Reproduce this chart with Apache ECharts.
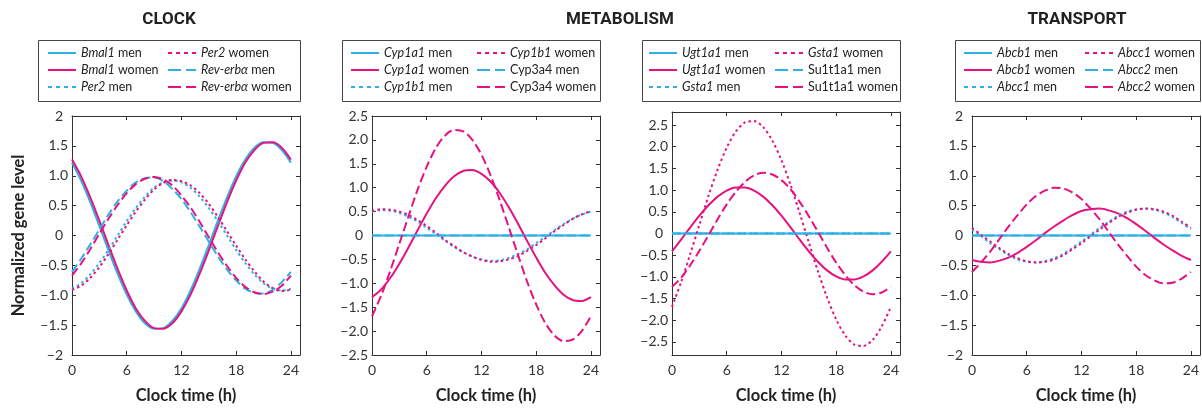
<!DOCTYPE html>
<html>
<head>
<meta charset="utf-8">
<script src="https://cdn.jsdelivr.net/npm/echarts@6/dist/echarts.min.js"></script>
<style>
  html, body { margin: 0; padding: 0; background: #fff; }
  #main { width: 1202px; height: 409px; }
</style>
</head>
<body>
<div id="main"></div>
<script>
  // clock time (h)
  const hours = [0, 1, 2, 3, 4, 5, 6, 7, 8, 9, 10, 11, 12, 13, 14, 15, 16, 17, 18, 19, 20, 21, 22, 23, 24]

  // CLOCK
  const bmal1Men = [1.22, 0.92, 0.56, 0.16, -0.25, -0.64, -0.99, -1.27, -1.47, -1.56, -1.55, -1.43, -1.22, -0.92, -0.56, -0.16, 0.25, 0.64, 0.99, 1.27, 1.47, 1.56, 1.55, 1.43, 1.22]
  const bmal1Women = [1.27, 0.99, 0.64, 0.25, -0.16, -0.56, -0.92, -1.22, -1.43, -1.55, -1.56, -1.47, -1.27, -0.99, -0.64, -0.25, 0.16, 0.56, 0.92, 1.22, 1.43, 1.55, 1.56, 1.47, 1.27]
  const per2Men = [-0.89, -0.80, -0.65, -0.46, -0.24, 0, 0.24, 0.46, 0.65, 0.80, 0.89, 0.92, 0.89, 0.80, 0.65, 0.46, 0.24, 0, -0.24, -0.46, -0.65, -0.80, -0.89, -0.92, -0.89]
  const per2Women = [-0.91, -0.84, -0.71, -0.53, -0.31, -0.07, 0.17, 0.40, 0.60, 0.77, 0.88, 0.93, 0.91, 0.84, 0.71, 0.53, 0.31, 0.07, -0.17, -0.40, -0.60, -0.77, -0.88, -0.93, -0.91]
  const reverbMen = [-0.61, -0.39, -0.15, 0.10, 0.35, 0.57, 0.75, 0.89, 0.96, 0.97, 0.91, 0.78, 0.61, 0.39, 0.15, -0.10, -0.35, -0.57, -0.75, -0.89, -0.96, -0.97, -0.91, -0.78, -0.61]
  const reverbWomen = [-0.67, -0.47, -0.23, 0.03, 0.28, 0.51, 0.71, 0.86, 0.95, 0.98, 0.94, 0.84, 0.67, 0.47, 0.23, -0.03, -0.28, -0.51, -0.71, -0.86, -0.95, -0.98, -0.94, -0.84, -0.67]

  // METABOLISM (left)
  const flatMen = [0, 0, 0, 0, 0, 0, 0, 0, 0, 0, 0, 0, 0, 0, 0, 0, 0, 0, 0, 0, 0, 0, 0, 0, 0]
  const cyp1a1Women = [-1.29, -1.13, -0.89, -0.59, -0.25, 0.11, 0.46, 0.78, 1.04, 1.24, 1.35, 1.37, 1.29, 1.13, 0.89, 0.59, 0.25, -0.11, -0.46, -0.78, -1.04, -1.24, -1.35, -1.37, -1.29]
  const cyp1b1Men = [0.50, 0.53, 0.52, 0.47, 0.39, 0.29, 0.16, 0.03, -0.11, -0.24, -0.35, -0.44, -0.50, -0.53, -0.52, -0.47, -0.39, -0.29, -0.16, -0.03, 0.11, 0.24, 0.35, 0.44, 0.50]
  const cyp1b1Women = [0.51, 0.55, 0.54, 0.50, 0.43, 0.32, 0.20, 0.06, -0.09, -0.22, -0.35, -0.44, -0.51, -0.55, -0.54, -0.50, -0.43, -0.32, -0.20, -0.06, 0.09, 0.22, 0.35, 0.44, 0.51]
  const cyp3a4Women = [-1.69, -1.26, -0.74, -0.17, 0.40, 0.96, 1.44, 1.83, 2.09, 2.21, 2.18, 2.00, 1.69, 1.26, 0.74, 0.17, -0.40, -0.96, -1.44, -1.83, -2.09, -2.21, -2.18, -2.00, -1.69]

  // METABOLISM (right)
  const ugt1a1Women = [-0.41, -0.14, 0.14, 0.41, 0.65, 0.85, 0.99, 1.06, 1.06, 0.99, 0.85, 0.65, 0.41, 0.14, -0.14, -0.41, -0.65, -0.85, -0.99, -1.06, -1.06, -0.99, -0.85, -0.65, -0.41]
  const gsta1Women = [-1.69, -1.12, -0.47, 0.20, 0.87, 1.47, 1.98, 2.35, 2.56, 2.59, 2.45, 2.14, 1.69, 1.12, 0.47, -0.20, -0.87, -1.47, -1.98, -2.35, -2.56, -2.59, -2.45, -2.14, -1.69]
  const su1t1a1Women = [-1.23, -1.02, -0.73, -0.40, -0.04, 0.33, 0.67, 0.96, 1.19, 1.34, 1.40, 1.36, 1.23, 1.02, 0.73, 0.40, 0.04, -0.33, -0.67, -0.96, -1.19, -1.34, -1.40, -1.36, -1.23]

  // TRANSPORT
  const abcb1Women = [-0.41, -0.44, -0.45, -0.42, -0.37, -0.29, -0.19, -0.08, 0.04, 0.15, 0.25, 0.34, 0.41, 0.44, 0.45, 0.42, 0.37, 0.29, 0.19, 0.08, -0.04, -0.15, -0.25, -0.34, -0.41]
  const abcc1Men = [0.10, -0.01, -0.13, -0.23, -0.33, -0.40, -0.44, -0.45, -0.43, -0.38, -0.31, -0.21, -0.10, 0.01, 0.13, 0.23, 0.33, 0.40, 0.44, 0.45, 0.43, 0.38, 0.31, 0.21, 0.10]
  const abcc1Women = [0.13, 0.01, -0.10, -0.21, -0.31, -0.38, -0.43, -0.45, -0.44, -0.40, -0.33, -0.23, -0.13, -0.01, 0.10, 0.21, 0.31, 0.38, 0.43, 0.45, 0.44, 0.40, 0.33, 0.23, 0.13]
  const abcc2Women = [-0.61, -0.45, -0.27, -0.06, 0.15, 0.34, 0.52, 0.66, 0.75, 0.80, 0.79, 0.72, 0.61, 0.45, 0.27, 0.06, -0.15, -0.34, -0.52, -0.66, -0.75, -0.80, -0.79, -0.72, -0.61]

  // ticks
  const xTicks = [0, 6, 12, 18, 24]
  const xLabels = ['0', '6', '12', '18', '24']
  const yTicks2 = [-2, -1.5, -1, -0.5, 0, 0.5, 1, 1.5, 2]
  const yLabels2 = ['\u22122', '\u22121.5', '\u22121.0', '\u22120.5', '0', '0.5', '1.0', '1.5', '2']
  const yTicks25 = [-2.5, -2, -1.5, -1, -0.5, 0, 0.5, 1, 1.5, 2, 2.5]
  const yLabels25 = ['\u22122.5', '\u22122.0', '\u22121.5', '\u22121.0', '\u22120.5', '0', '0.5', '1.0', '1.5', '2.0', '2.5']

  const CYAN = '#2db0e6'
  const MAGENTA = '#e5127f'
  const SOLID = 'solid'
  const DOT = [2.5, 3]
  const DASH = [9, 4]
  const nonItalic = ['Cyp3a4', 'Su1t1a1']
  const FONT = 'Lato, "Open Sans", sans-serif'

  const panels = [
    { left: 72, top: 116, height: 241, min: -2, max: 2, ticks: yTicks2, labels: yLabels2,
      legendX: [47, 167], box: [38, 40, 262, 61],
      series: [
        ['Bmal1 men', bmal1Men, CYAN, SOLID], ['Bmal1 women', bmal1Women, MAGENTA, SOLID],
        ['Per2 men', per2Men, CYAN, DOT], ['Per2 women', per2Women, MAGENTA, DOT],
        ['Rev-erbα men', reverbMen, CYAN, DASH], ['Rev-erbα women', reverbWomen, MAGENTA, DASH]
      ] },
    { left: 372, top: 116, height: 241, min: -2.5, max: 2.5, ticks: yTicks25, labels: yLabels25,
      legendX: [350, 476], box: [342, 40, 258, 61],
      series: [
        ['Cyp1a1 men', flatMen, CYAN, SOLID], ['Cyp1a1 women', cyp1a1Women, MAGENTA, SOLID],
        ['Cyp1b1 men', cyp1b1Men, CYAN, DOT], ['Cyp1b1 women', cyp1b1Women, MAGENTA, DOT],
        ['Cyp3a4 men', flatMen, CYAN, DASH], ['Cyp3a4 women', cyp3a4Women, MAGENTA, DASH]
      ] },
    { left: 672, top: 112, height: 245, min: -2.8, max: 2.8, ticks: yTicks25, labels: yLabels25,
      legendX: [648, 774], box: [642, 40, 258, 61],
      series: [
        ['Ugt1a1 men', flatMen, CYAN, SOLID], ['Ugt1a1 women', ugt1a1Women, MAGENTA, SOLID],
        ['Gsta1 men', flatMen, CYAN, DOT], ['Gsta1 women', gsta1Women, MAGENTA, DOT],
        ['Su1t1a1 men', flatMen, CYAN, DASH], ['Su1t1a1 women', su1t1a1Women, MAGENTA, DASH]
      ] },
    { left: 972, top: 116, height: 241, min: -2, max: 2, ticks: yTicks2, labels: yLabels2,
      legendX: [963, 1084], box: [955, 40, 245, 61],
      series: [
        ['Abcb1 men', flatMen, CYAN, SOLID], ['Abcb1 women', abcb1Women, MAGENTA, SOLID],
        ['Abcc1 men', abcc1Men, CYAN, DOT], ['Abcc1 women', abcc1Women, MAGENTA, DOT],
        ['Abcc2 men', flatMen, CYAN, DASH], ['Abcc2 women', abcc2Women, MAGENTA, DASH]
      ] }
  ]

  const axisLine = { show: true, onZero: false, lineStyle: { color: '#333', width: 1 } }
  const axisTick = (vals) => ({ show: true, inside: true, length: 4, customValues: vals, lineStyle: { color: '#333' } })

  const legendFormatter = (name) => {
    const k = name.lastIndexOf(' ')
    const gene = name.slice(0, k)
    const sex = name.slice(k + 1)
    if (nonItalic.includes(gene)) return '{r|' + name + '}'
    return '{i|' + gene + '}{r| ' + sex + '}'
  }

  const grid = [], xAxis = [], yAxis = [], series = [], legend = [], graphic = []

  panels.forEach((p, i) => {
    grid.push({ left: p.left, top: p.top, width: 228, height: p.height })
    const yFmt = (v) => {
      const lab = p.labels[p.ticks.indexOf(v)]
      return lab.indexOf('.') >= 0 ? lab : '{p|' + lab + '}'
    }
    xAxis.push({
      type: 'value', gridIndex: i, min: 0, max: 25, position: 'bottom',
      axisLine, axisTick: axisTick(xTicks), splitLine: { show: false },
      axisLabel: { customValues: xTicks, formatter: (v) => xLabels[xTicks.indexOf(v)],
        margin: 8, fontSize: 14, fontFamily: FONT, color: '#333' },
      name: 'Clock time (h)', nameLocation: 'middle', nameGap: 32,
      nameTextStyle: { fontSize: 16.5, fontWeight: 'bold', fontFamily: FONT, color: '#222' }
    })
    xAxis.push({
      type: 'value', gridIndex: i, min: 0, max: 25, position: 'top',
      axisLine, axisTick: axisTick(xTicks), splitLine: { show: false },
      axisLabel: { show: false }
    })
    const left = {
      type: 'value', gridIndex: i, min: p.min, max: p.max, position: 'left',
      axisLine, axisTick: axisTick(p.ticks), splitLine: { show: false },
      axisLabel: { customValues: p.ticks, formatter: yFmt, margin: 4, fontSize: 14,
        fontFamily: FONT, color: '#333',
        rich: { p: { padding: [0, 5, 0, 0], fontSize: 14, fontFamily: FONT, color: '#333' } } }
    }
    if (i === 0) {
      left.name = 'Normalized gene level'
      left.nameLocation = 'middle'
      left.nameGap = 45
      left.nameRotate = 90
      left.nameTextStyle = { fontSize: 16.5, fontWeight: 'bold', fontFamily: FONT, color: '#222' }
    }
    yAxis.push(left)
    yAxis.push({
      type: 'value', gridIndex: i, min: p.min, max: p.max, position: 'right',
      axisLine, axisTick: axisTick(p.ticks), splitLine: { show: false },
      axisLabel: { show: false }
    })

    p.series.forEach((s) => {
      series.push({
        name: s[0], type: 'line', xAxisIndex: 2 * i, yAxisIndex: 2 * i,
        data: hours.map((h, k) => [h, s[1][k]]),
        smooth: 0.3, symbol: 'none', color: s[2],
        lineStyle: { color: s[2], width: 2, type: s[3] }
      })
    })

    const legendType = (t) => (t === DOT ? [4, 4] : t === DASH ? [13, 5] : 'solid')
    ;[0, 1].forEach((c) => {
      legend.push({
        orient: 'vertical', left: p.legendX[c], top: 46, padding: 0,
        itemWidth: 28, itemHeight: 14, itemGap: 3, selectedMode: false,
        itemStyle: { opacity: 0 },
        data: p.series.slice(c * 3, c * 3 + 3).map((s) => ({ name: s[0], lineStyle: { type: legendType(s[3]), width: 2, opacity: 1 } })),
        formatter: legendFormatter,
        textStyle: { fontSize: 12.5, fontFamily: FONT, color: '#222', lineHeight: 14,
          rich: {
            i: { fontStyle: 'italic', fontSize: 12.5, fontFamily: FONT, color: '#222', lineHeight: 14 },
            r: { fontSize: 12.5, fontFamily: FONT, color: '#222', lineHeight: 14 }
          } }
      })
    })

    graphic.push({
      type: 'rect', shape: { x: p.box[0] + 0.5, y: p.box[1] + 0.5, width: p.box[2], height: p.box[3] },
      style: { fill: 'none', stroke: '#444', lineWidth: 1 }, silent: true
    })
  })

  const titles = [['CLOCK', 169], ['METABOLISM', 620], ['TRANSPORT', 1077]]
  titles.forEach((t) => {
    graphic.push({
      type: 'text', x: t[1], y: 20,
      style: { text: t[0], align: 'center', verticalAlign: 'middle', fill: '#222',
        font: 'bold 17px Roboto, sans-serif' }
    })
  })

  const myChart = echarts.init(document.getElementById('main'))
  myChart.setOption({
    animation: false,
    grid, xAxis, yAxis, series, legend, graphic
  })
</script>
</body>
</html>
